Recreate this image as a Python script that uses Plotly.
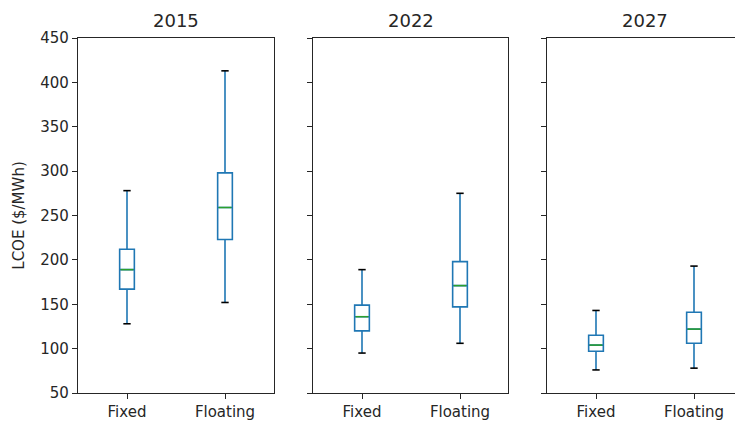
import plotly.graph_objects as go

years = ["2015", "2022", "2027"]
categories = ["Fixed", "Floating"]
# per year: [Fixed, Floating]
lower = {"2015": [128, 152], "2022": [95, 106], "2027": [76, 78]}
q1 = {"2015": [167, 223], "2022": [120, 147], "2027": [97, 106]}
median = {"2015": [189, 259], "2022": [136, 171], "2027": [104, 122]}
q3 = {"2015": [212, 298], "2022": [149, 198], "2027": [115, 141]}
upper = {"2015": [278, 413], "2022": [189, 275], "2027": [143, 193]}
y_ticks = [50, 100, 150, 200, 250, 300, 350, 400, 450]

W, H = 735, 423
BLUE = "#1f77b4"
GREEN = "#2ca02c"
INK = "#262626"
box_w = 0.15
cap_w = box_w / 2

# pixel layout (converted to paper fractions)
panel_px = [(78, 274), (313, 508), (547, 735)]
unit_px = (274 - 78) / 2.0
y_dom = [(H - 393) / H, (H - 38) / H]

fig = go.Figure()
positions = [1, 2]
for i, yr in enumerate(years):
    ax = "" if i == 0 else str(i + 1)
    xa, ya = "x" + ax, "y" + ax
    for j, cat in enumerate(categories):
        p = positions[j]
        fig.add_trace(go.Box(
            x=[p], q1=[q1[yr][j]], median=[median[yr][j]], q3=[q3[yr][j]],
            lowerfence=[lower[yr][j]], upperfence=[upper[yr][j]],
            width=box_w, whiskerwidth=0, fillcolor="rgba(0,0,0,0)",
            line=dict(color=BLUE, width=1.6), boxpoints=False,
            xaxis=xa, yaxis=ya, showlegend=False, hoverinfo="skip"))
        # median line
        fig.add_trace(go.Scatter(
            x=[p - box_w / 2 + 0.01, p + box_w / 2 - 0.01],
            y=[median[yr][j]] * 2, mode="lines",
            line=dict(color=GREEN, width=1.5),
            xaxis=xa, yaxis=ya, showlegend=False, hoverinfo="skip"))
        # caps
        for v in (lower[yr][j], upper[yr][j]):
            fig.add_trace(go.Scatter(
                x=[p - cap_w / 2, p + cap_w / 2], y=[v, v], mode="lines",
                line=dict(color="black", width=1.6),
                xaxis=xa, yaxis=ya, showlegend=False, hoverinfo="skip"))

layout = dict(width=W, height=H,
              margin=dict(l=0, r=0, t=0, b=0, autoexpand=False),
              paper_bgcolor="white", plot_bgcolor="white",
              font=dict(family="DejaVu Sans", color=INK))
annotations = []
for i, yr in enumerate(years):
    ax = "" if i == 0 else str(i + 1)
    x0, x1 = panel_px[i]
    xmax = 0.5 + (x1 - x0) / unit_px
    layout["xaxis" + ax] = dict(
        domain=[x0 / W, x1 / W], range=[0.5, xmax], anchor="y" + ax,
        tickmode="array", tickvals=positions, ticktext=categories,
        showline=True, linecolor=INK, linewidth=1.2, mirror=True,
        ticks="outside", ticklen=5, tickcolor=INK, tickwidth=1.2,
        showgrid=False, zeroline=False, tickfont=dict(size=15),
        automargin=False)
    layout["yaxis" + ax] = dict(
        domain=y_dom, range=[50, 450], anchor="x" + ax,
        tickmode="array", tickvals=y_ticks,
        showticklabels=(i == 0),
        showline=True, linecolor=INK, linewidth=1.2, mirror=(i < 2),
        ticks="outside", ticklen=5, tickcolor=INK, tickwidth=1.2,
        showgrid=False, zeroline=False, tickfont=dict(size=15),
        automargin=False)
    annotations.append(dict(
        text=yr, xref="x" + ax, yref="paper", x=1.5, y=y_dom[1] + 0.012,
        xanchor="center", yanchor="bottom", showarrow=False,
        font=dict(size=18, color=INK)))
layout["yaxis"]["title"] = dict(text="LCOE ($/MWh)", font=dict(size=15), standoff=12)
layout["annotations"] = annotations
fig.update_layout(**layout)
fig.write_html("out.html")
